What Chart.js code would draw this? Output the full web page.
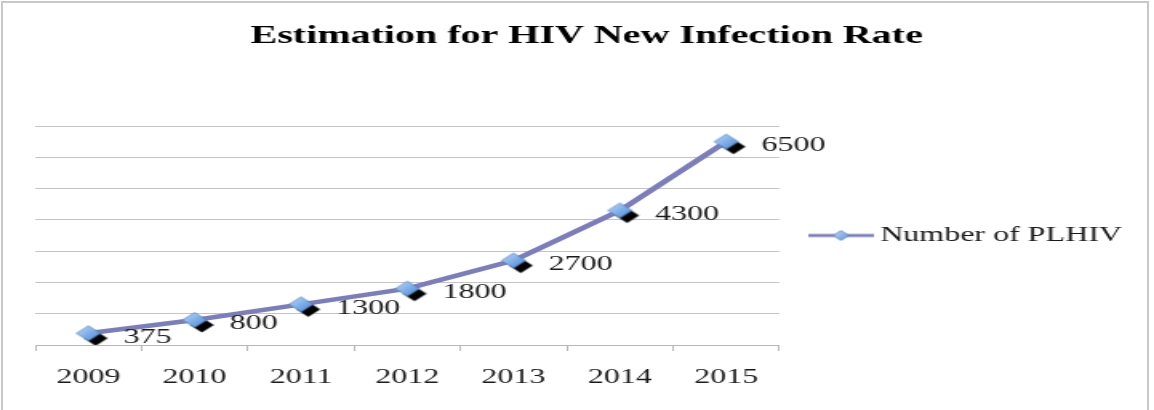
<!DOCTYPE html>
<html>
<head>
<meta charset="utf-8">
<script src="https://cdn.jsdelivr.net/npm/chart.js@4/dist/chart.umd.min.js"></script>
<style>
  html, body { margin: 0; padding: 0; background: #fff; overflow: hidden; width: 1154px; height: 410px; }
  #frame { position: absolute; left: 1px; top: 1px; width: 1148px; height: 430px; border: 2px solid #c8c8c8; box-sizing: border-box; }
  #wrap { position: absolute; left: 0; top: 0; width: 721px; height: 410px; transform: scaleX(1.6006); transform-origin: 0 0; }
  #c { display: block; width: 721px; height: 410px; }
</style>
</head>
<body>
<div id="frame"></div>
<div id="wrap"><canvas id="c" width="721" height="410"></canvas></div>
<script>
const chartTitle = 'Estimation for HIV New Infection Rate';
const seriesName = 'Number of PLHIV';
const years = ['2009', '2010', '2011', '2012', '2013', '2014', '2015'];
const plhiv = [375, 800, 1300, 1800, 2700, 4300, 6500];
const yMin = 0;
const yMax = 7000;
const yStep = 1000;

const LINE_COLOR = '#7b7ebb';
const SERIF = "'Liberation Serif', 'DejaVu Serif', serif";

function drawDiamond(ctx, cx, cy, r) {
  ctx.beginPath();
  ctx.moveTo(cx, cy - r);
  ctx.lineTo(cx + r, cy);
  ctx.lineTo(cx, cy + r);
  ctx.lineTo(cx - r, cy);
  ctx.closePath();
}

function makeMarker() {
  const c = document.createElement('canvas');
  c.width = 28; c.height = 28;
  const g = c.getContext('2d');
  const cx = 14, cy = 14, r = 7.5;
  g.fillStyle = '#000';
  drawDiamond(g, cx + 4.5, cy + 5, r);
  g.fill();
  const grad = g.createLinearGradient(cx - r, cy - r, cx + r, cy + r);
  grad.addColorStop(0, '#c3dbf7');
  grad.addColorStop(0.5, '#7fb0ea');
  grad.addColorStop(1, '#4a86d4');
  g.fillStyle = grad;
  drawDiamond(g, cx, cy, r);
  g.fill();
  g.strokeStyle = '#4f7fbf';
  g.lineWidth = 0.8;
  g.stroke();
  return c;
}

function makeLegendIcon() {
  const c = document.createElement('canvas');
  c.width = 41; c.height = 16;
  const g = c.getContext('2d');
  g.strokeStyle = LINE_COLOR;
  g.lineWidth = 3;
  g.beginPath();
  g.moveTo(0, 8); g.lineTo(41, 8);
  g.stroke();
  const grad = g.createLinearGradient(15, 3, 26, 13);
  grad.addColorStop(0, '#c3dbf7');
  grad.addColorStop(1, '#5a92d8');
  g.fillStyle = grad;
  drawDiamond(g, 20.5, 8, 5);
  g.fill();
  g.strokeStyle = '#4f7fbf';
  g.lineWidth = 0.8;
  g.stroke();
  return c;
}

const markerImg = makeMarker();
const legendImg = makeLegendIcon();

const valueLabelPlugin = {
  id: 'valueLabels',
  afterDatasetsDraw(chart) {
    const ctx = chart.ctx;
    const meta = chart.getDatasetMeta(0);
    const data = chart.data.datasets[0].data;
    ctx.save();
    ctx.font = '20px ' + SERIF;
    ctx.fillStyle = '#1a1a1a';
    ctx.textAlign = 'left';
    ctx.textBaseline = 'middle';
    meta.data.forEach((pt, i) => {
      ctx.fillText(String(data[i]), pt.x + 22, pt.y + 4);
    });
    ctx.restore();
  }
};

new Chart(document.getElementById('c'), {
  type: 'line',
  data: {
    labels: years,
    datasets: [{
      label: seriesName,
      data: plhiv,
      borderColor: LINE_COLOR,
      borderWidth: 4.5,
      pointStyle: markerImg,
      pointRadius: 8,
      tension: 0,
      fill: false
    }]
  },
  options: {
    responsive: false,
    devicePixelRatio: 1,
    animation: false,
    events: [],
    layout: { autoPadding: false, padding: { left: 22, right: 10, top: 0, bottom: 5 } },
    plugins: {
      title: {
        display: true,
        text: chartTitle,
        color: '#000',
        font: { family: SERIF, size: 25, weight: 'bold', lineHeight: 1.2 },
        padding: { top: 22, bottom: 74 }
      },
      legend: {
        display: true,
        position: 'right',
        align: 'center',
        fullSize: false,
        maxWidth: 300,
        labels: {
          usePointStyle: true,
          pointStyleWidth: 29,
          padding: 24,
          color: '#1a1a1a',
          font: { family: SERIF, size: 20 },
          generateLabels: (chart) => [{
            text: seriesName,
            pointStyle: legendImg,
            fillStyle: 'rgba(0,0,0,0)',
            strokeStyle: 'rgba(0,0,0,0)',
            lineWidth: 0,
            fontColor: '#1a1a1a',
            datasetIndex: 0,
            hidden: false
          }]
        }
      },
      tooltip: { enabled: false }
    },
    scales: {
      x: {
        offset: true,
        grid: {
          offset: true,
          drawOnChartArea: false,
          drawTicks: true,
          tickLength: 6,
          color: '#b8b8b8'
        },
        border: { display: true, color: '#b8b8b8', width: 1 },
        ticks: {
          color: '#1a1a1a',
          padding: 15,
          maxRotation: 0,
          font: { family: SERIF, size: 20 }
        }
      },
      y: {
        min: yMin,
        max: yMax,
        grid: { color: '#c4c4c4', drawTicks: false, lineWidth: 1 },
        border: { display: false },
        ticks: { display: false, stepSize: yStep }
      }
    }
  },
  plugins: [valueLabelPlugin]
});
</script>
</body>
</html>
